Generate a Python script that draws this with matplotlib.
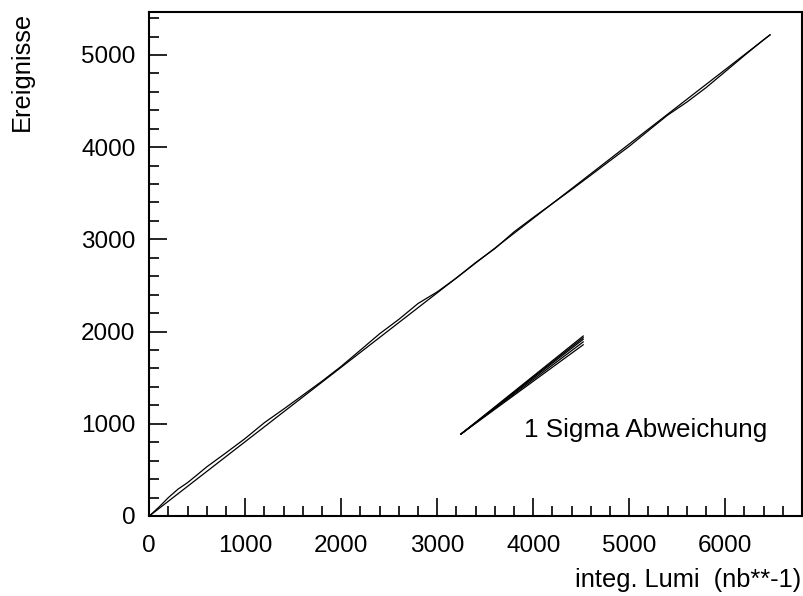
import matplotlib
matplotlib.use('Agg')

from matplotlib import pyplot as plt
from matplotlib.ticker import MultipleLocator

plt.rcParams['font.family'] = ['Liberation Sans', 'DejaVu Sans']

# integrated luminosity (nb**-1) vs. number of events
lumi = [0, 100, 200, 300, 400, 500, 600, 800, 1000, 1200, 1400, 1600, 1800,
        2000, 2200, 2400, 2600, 2800, 3000, 3200, 3400, 3600, 3800, 4000,
        4200, 4400, 4600, 4800, 5000, 5200, 5400, 5600, 5800, 6000, 6200,
        6400, 6466]
events = [0, 96, 201, 292, 363, 448, 534, 686, 842, 1013, 1160, 1311, 1463,
          1624, 1800, 1977, 2133, 2305, 2431, 2582, 2749, 2900, 3082, 3238,
          3389, 3541, 3697, 3854, 4010, 4180, 4348, 4489, 4646, 4820, 4995,
          5165, 5218]

# straight line fit
fit_lumi = [0, 6466]
fit_events = [0, 5218]

# 1 sigma fan
sigma_start = (3247, 889)
sigma_end_lumi = 4520
sigma_end_events = [1952, 1934, 1916, 1888, 1857]

f = plt.figure(figsize=(8.04, 5.96), dpi=100)
ax = f.add_axes([149.3 / 804, 80 / 596, (801.6 - 149.3) / 804, (516 - 12) / 596])

ax.plot(lumi, events, color='black', lw=0.9)
ax.plot(fit_lumi, fit_events, color='black', lw=0.9)

for e in sigma_end_events:
    ax.plot([sigma_start[0], sigma_end_lumi], [sigma_start[1], e],
            color='black', lw=0.9)

ax.text(3903, 933, '1 Sigma Abweichung', fontsize=18.7, ha='left', va='center')

ax.set_xlim(0, 6795)
ax.set_ylim(0, 5466)

ax.xaxis.set_major_locator(MultipleLocator(1000))
ax.xaxis.set_minor_locator(MultipleLocator(200))
ax.yaxis.set_major_locator(MultipleLocator(1000))
ax.yaxis.set_minor_locator(MultipleLocator(200))

ax.tick_params(which='both', direction='in', top=False, right=False,
               width=1.2, labelsize=17.5)
ax.tick_params(which='major', length=13)
ax.tick_params(which='minor', length=7)
ax.tick_params(axis='x', pad=14)
ax.tick_params(axis='y', pad=10)

for s in ax.spines.values():
    s.set_linewidth(1.5)

f.text(801 / 804, 1 - 580 / 596, 'integ. Lumi  (nb**-1)', fontsize=18.3,
       ha='right', va='center')
f.text(22 / 804, 1 - 12 / 596, 'Ereignisse', fontsize=18.3, rotation=90,
       ha='center', va='top')

plt.savefig('out.png', dpi=100)
